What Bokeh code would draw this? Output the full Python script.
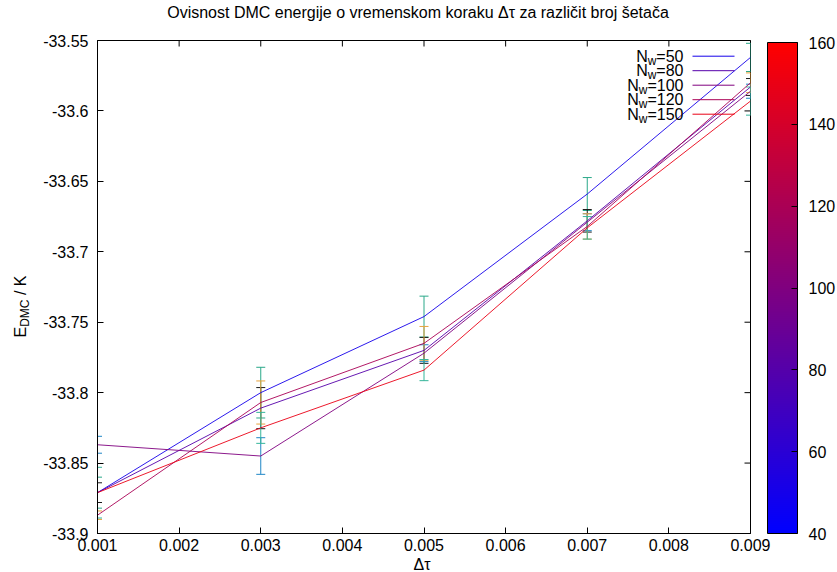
import math
from bokeh.plotting import figure
from bokeh.layouts import row, column
from bokeh.models import (Range1d, FixedTicker, Label, Arrow,
                          ColorBar, LinearColorMapper)
from bokeh.embed import file_html
from bokeh.resources import INLINE

# ---------------- data ----------------
dt = [0.001, 0.003, 0.005, 0.007, 0.009]
walkers = [50, 80, 100, 120, 150]

E_nw50 = [-33.871, -33.800, -33.746, -33.659, -33.562]
E_nw80 = [-33.871, -33.811, -33.770, -33.678, -33.583]
E_nw100 = [-33.837, -33.845, -33.772, -33.679, -33.586]
E_nw120 = [-33.887, -33.807, -33.765, -33.682, -33.580]
E_nw150 = [-33.871, -33.825, -33.784, -33.683, -33.593]

err_nw50 = [0.011, 0.018, 0.0145, 0.0117, 0.010]
err_nw80 = [0.007, 0.0146, 0.0092, 0.008, 0.006]
err_nw100 = [0.006, 0.013, 0.006, 0.006, 0.005]
err_nw120 = [0.003, 0.0153, 0.012, 0.009, 0.007]
err_nw150 = [0.018, 0.011, 0.0075, 0.008, 0.010]

energies = [E_nw50, E_nw80, E_nw100, E_nw120, E_nw150]
errors = [err_nw50, err_nw80, err_nw100, err_nw120, err_nw150]
errbar_colors = ["#2aa889", "#1a1a1a", "#1f86c6", "#e6a23c", "#35b59a"]

x_ticks = [0.001, 0.002, 0.003, 0.004, 0.005, 0.006, 0.007, 0.008, 0.009]
x_tick_labels = ["0.001", "0.002", "0.003", "0.004", "0.005", "0.006", "0.007", "0.008", "0.009"]
y_ticks = [-33.9, -33.85, -33.8, -33.75, -33.7, -33.65, -33.6, -33.55]
y_tick_labels = ["-33.9", "-33.85", "-33.8", "-33.75", "-33.7", "-33.65", "-33.6", "-33.55"]
cb_ticks = [40, 60, 80, 100, 120, 140, 160]
cb_low, cb_high = 40, 160

title_text = "Ovisnost DMC energije o vremenskom koraku \u0394\u03c4 za razli\u010dit broj \u0161eta\u010da"
x_label_text = "\u0394\u03c4"
y_label_parts = ["E", "DMC", "/ K"]

# ---------------- style ----------------
FONT = "Liberation Sans"
FS = 16
SUB = 12
W, H = 837, 572
TH = 22                      # title strip height
BH = 16                      # x-label strip height
HW = 32                      # y-label strip width
LEFT, TOP = 97, 40
FW, FH = 653, 493
MID_H = H - TH - BH


def wcolor(n):
    t = (n - cb_low) / (cb_high - cb_low)
    r = int(round(255 * t))
    return "#%02x00%02x" % (r, 255 - r)


palette = ["#%02x00%02x" % (i, 255 - i) for i in range(256)]

AW = {'=': 0.584, '0': 0.556, '1': 0.556, '2': 0.556, '5': 0.556, '8': 0.556,
      'N': 0.722, 'w': 0.722, 'E': 0.667, 'D': 0.722, 'M': 0.833, 'C': 0.722,
      ' ': 0.278, '/': 0.278, 'K': 0.667}


def tw(s, size):
    return sum(AW.get(c, 0.556) for c in s) * size


def strip(w, h):
    f = figure(width=w, height=h, x_range=Range1d(0, w), y_range=Range1d(0, h),
               min_border=0, output_backend="svg", toolbar_location=None)
    f.axis.visible = False
    f.grid.visible = False
    f.outline_line_color = None
    f.background_fill_color = "white"
    f.border_fill_color = "white"
    return f


p = figure(frame_width=FW, frame_height=FH,
           min_border_left=LEFT - HW, min_border_right=W - LEFT - FW,
           min_border_top=TOP - TH, min_border_bottom=MID_H - (TOP - TH) - FH,
           x_range=Range1d(dt[0], dt[-1]), y_range=Range1d(y_ticks[0], y_ticks[-1]),
           title=None, output_backend="svg", toolbar_location=None)
p.grid.visible = False
p.outline_line_color = "black"
p.outline_line_width = 1
p.background_fill_color = "white"
p.border_fill_color = "white"

for ax in (p.xaxis[0], p.yaxis[0]):
    ax.major_tick_in = 6
    ax.major_tick_out = 0
    ax.minor_tick_line_color = None
    ax.axis_line_color = "black"
    ax.major_tick_line_color = "black"
    ax.major_label_text_font = FONT
    ax.major_label_text_font_size = "%dpx" % FS
    ax.major_label_text_color = "black"

p.xaxis[0].major_label_standoff = 5
p.yaxis[0].major_label_standoff = 9
p.xaxis[0].ticker = FixedTicker(ticks=x_ticks)
p.xaxis[0].major_label_overrides = dict(zip(x_ticks, x_tick_labels))
p.yaxis[0].ticker = FixedTicker(ticks=y_ticks)
p.yaxis[0].major_label_overrides = dict(zip(y_ticks, y_tick_labels))

# mirrored (inward) ticks on the top and right borders; half of each mark is clipped by the frame
p.scatter(x=x_ticks, y=[y_ticks[-1]] * len(x_ticks), marker="dash", angle=math.pi / 2,
          size=12, line_color="black", line_width=1)
p.scatter(x=[x_ticks[-1]] * len(y_ticks), y=y_ticks, marker="dash",
          size=12, line_color="black", line_width=1)

# error bars
for E, err, col in zip(energies, errors, errbar_colors):
    lo = [e - d for e, d in zip(E, err)]
    hi = [e + d for e, d in zip(E, err)]
    p.segment(x0=dt, y0=lo, x1=dt, y1=hi, line_color=col, line_width=1)
    p.scatter(x=dt + dt, y=lo + hi, marker="dash", size=9, line_color=col, line_width=1)

# lines
for E, n in zip(energies, walkers):
    p.line(dt, E, line_color=wcolor(n), line_width=1, line_alpha=0.9)

# legend (right-aligned text with subscript, then line sample)
leg_right = 586
for i, n in enumerate(walkers):
    ry = FH - (15.7 + 14.5 * i)
    rest = "=%d" % n
    p.add_layout(Label(x=leg_right, y=ry, x_units="screen", y_units="screen", text=rest,
                       text_align="right", text_baseline="middle",
                       text_font=FONT, text_font_size="%dpx" % FS, text_color="black"))
    xw = leg_right - tw(rest, FS)
    p.add_layout(Label(x=xw, y=ry - 4.4, x_units="screen", y_units="screen", text="w",
                       text_align="right", text_baseline="middle",
                       text_font=FONT, text_font_size="%dpx" % SUB, text_color="black"))
    xn = xw - tw("w", SUB)
    p.add_layout(Label(x=xn, y=ry, x_units="screen", y_units="screen", text="N",
                       text_align="right", text_baseline="middle",
                       text_font=FONT, text_font_size="%dpx" % FS, text_color="black"))
    p.add_layout(Arrow(end=None, x_start=595, y_start=ry, x_end=637, y_end=ry,
                       start_units="screen", end_units="screen",
                       line_color=wcolor(n), line_width=1))

# color bar
mapper = LinearColorMapper(palette=palette, low=cb_low, high=cb_high)
cb = ColorBar(color_mapper=mapper, location=(FW + 17, 0), width=30, height=FH - 2,
              padding=0, margin=0, ticker=FixedTicker(ticks=cb_ticks),
              major_label_text_font=FONT, major_label_text_font_size="%dpx" % FS,
              major_label_text_color="black", label_standoff=11,
              major_tick_line_color="black", major_tick_in=6, major_tick_out=0,
              minor_tick_line_color=None,
              bar_line_color="black", background_fill_color=None, border_line_color=None)
p.add_layout(cb)

# title strip
t = strip(W, TH)
t.add_layout(Label(x=417.5, y=TH - 12, x_units="screen", y_units="screen", text=title_text,
                   text_align="center", text_baseline="middle",
                   text_font=FONT, text_font_size="%dpx" % FS, text_color="black"))

# x-label strip
b = strip(W, BH)
b.add_layout(Label(x=LEFT + FW / 2 - 2, y=8, x_units="screen", y_units="screen", text=x_label_text,
                   text_align="center", text_baseline="middle",
                   text_font=FONT, text_font_size="%dpx" % FS, text_color="black"))

# y-label strip  E_DMC / K (rotated)
q = strip(HW, MID_H)
yl_x = 20
yl_y = (TH + MID_H) - 360
sizes = [FS, SUB, FS]
shifts = [0, 4, 0]
gaps = [0, 0, tw(" ", FS)]
pos = yl_y
for txt, sz, sh, g in zip(y_label_parts, sizes, shifts, gaps):
    pos += g
    q.add_layout(Label(x=yl_x + sh, y=pos, x_units="screen", y_units="screen", text=txt,
                       angle=math.pi / 2, text_align="left", text_baseline="middle",
                       text_font=FONT, text_font_size="%dpx" % sz, text_color="black"))
    pos += tw(txt, sz)

layout = column(t, row(q, p), b)
open("out.html", "w").write(file_html(layout, INLINE))
